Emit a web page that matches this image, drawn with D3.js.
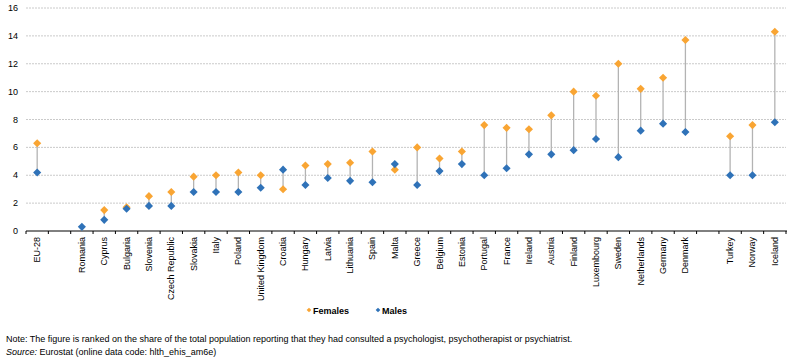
<!DOCTYPE html>
<html lang="en">
<head>
<meta charset="UTF-8">
<title>Consultations</title>
<script src="https://d3js.org/d3.v7.min.js"></script>
<style>
    body { margin: 0; background: #fff; }
    text { font-family: "Liberation Sans", Arial, sans-serif; fill: #000; }
    .grid line { stroke: #bdbdbd; stroke-dasharray: 2 1; stroke-width: 0.8px; }
    .yaxis text { font-size: 9px; }
    .xaxis text { font-size: 9px; }
    .xaxis path, .xaxis line { stroke: #000; }
    .note { font-size: 9px; }
</style>
</head>
<body>
<script>
// DATA
const countries = ["EU-28", "", "Romania", "Cyprus", "Bulgaria", "Slovenia", "Czech Republic", "Slovakia",
    "Italy", "Poland", "United Kingdom", "Croatia", "Hungary", "Latvia", "Lithuania", "Spain", "Malta",
    "Greece", "Belgium", "Estonia", "Portugal", "France", "Ireland", "Austria", "Finland", "Luxembourg",
    "Sweden", "Netherlands", "Germany", "Denmark", " ", "Turkey", "Norway", "Iceland"];
const females = [6.3, null, null, 1.5, 1.7, 2.5, 2.8, 3.9, 4.0, 4.2, 4.0, 3.0, 4.7, 4.8, 4.9, 5.7, 4.4,
    6.0, 5.2, 5.7, 7.6, 7.4, 7.3, 8.3, 10.0, 9.7, 12.0, 10.2, 11.0, 13.7, null, 6.8, 7.6, 14.3];
const males = [4.2, null, 0.3, 0.8, 1.6, 1.8, 1.8, 2.8, 2.8, 2.8, 3.1, 4.4, 3.3, 3.8, 3.6, 3.5, 4.8,
    3.3, 4.3, 4.8, 4.0, 4.5, 5.5, 5.5, 5.8, 6.6, 5.3, 7.2, 7.7, 7.1, null, 4.0, 4.0, 7.8];
const yTicks = [0, 2, 4, 6, 8, 10, 12, 14, 16];

const width = 797, height = 362;
const plotLeft = 26, plotRight = 786, plotTop = 8, plotBottom = 231;
const orange = "#f9a533", blue = "#2f72b8";

const svg = d3.select("body").append("svg")
    .attr("width", width)
    .attr("height", height);

const x = d3.scaleBand().domain(countries).range([plotLeft, plotRight]);
const y = d3.scaleLinear().domain([0, 16]).range([plotBottom, plotTop]);

// GRID
svg.append("g").attr("class", "grid")
    .selectAll("line").data(yTicks.slice(1)).join("line")
    .attr("x1", plotLeft).attr("x2", plotRight)
    .attr("y1", d => y(d)).attr("y2", d => y(d));

// Y LABELS
svg.append("g").attr("class", "yaxis")
    .selectAll("text").data(yTicks).join("text")
    .attr("x", 18).attr("y", d => y(d) + 3)
    .attr("text-anchor", "end")
    .text(d => d);

// X AXIS
const xAxis = svg.append("g").attr("class", "xaxis")
    .attr("transform", `translate(0,${plotBottom})`);
xAxis.append("line").attr("x1", plotLeft).attr("x2", plotRight + 1).attr("stroke", "#000");
xAxis.selectAll(".tk").data(d3.range(countries.length + 1)).join("line")
    .attr("class", "tk")
    .attr("x1", i => plotLeft + i * x.step()).attr("x2", i => plotLeft + i * x.step())
    .attr("y1", 0).attr("y2", 3);
xAxis.selectAll(".lbl").data(countries).join("text")
    .attr("class", "lbl")
    .attr("transform", d => `translate(${x(d) + x.bandwidth() / 2 + 3},6) rotate(-90)`)
    .attr("text-anchor", "end")
    .text(d => d.trim());

// CONNECTORS
const pairs = countries.map((c, i) => ({ c, f: females[i], m: males[i] }));
svg.append("g").selectAll("line")
    .data(pairs.filter(d => d.f != null && d.m != null)).join("line")
    .attr("x1", d => x(d.c) + x.bandwidth() / 2).attr("x2", d => x(d.c) + x.bandwidth() / 2)
    .attr("y1", d => y(d.f)).attr("y2", d => y(d.m))
    .attr("stroke", "#b3b3b3").attr("stroke-width", 1.3);

// MARKERS
const diamond = d3.symbol().type(d3.symbolDiamond2).size(42);
function markers(key, color) {
    svg.append("g").selectAll("path")
        .data(pairs.filter(d => d[key] != null)).join("path")
        .attr("d", diamond)
        .attr("transform", d => `translate(${x(d.c) + x.bandwidth() / 2},${y(d[key])})`)
        .attr("fill", color);
}
markers("f", orange);
markers("m", blue);

// LEGEND
const legend = [{ name: "Females", color: orange, x: 309 }, { name: "Males", color: blue, x: 378 }];
const lg = svg.append("g").selectAll("g").data(legend).join("g")
    .attr("transform", d => `translate(${d.x},310)`);
lg.append("path").attr("d", d3.symbol().type(d3.symbolDiamond2).size(14)).attr("fill", d => d.color);
lg.append("text").attr("x", 4).attr("y", 3.5)
    .attr("font-size", "9px").attr("font-weight", "bold")
    .text(d => d.name);

// NOTES
svg.append("text").attr("class", "note").attr("x", 6).attr("y", 342)
    .text("Note: The figure is ranked on the share of the total population reporting that they had consulted a psychologist, psychotherapist or psychiatrist.");
const src = svg.append("text").attr("class", "note").attr("x", 6).attr("y", 355);
src.append("tspan").attr("font-style", "italic").text("Source:");
src.append("tspan").text(" Eurostat (online data code: hlth_ehis_am6e)");
</script>
</body>
</html>
